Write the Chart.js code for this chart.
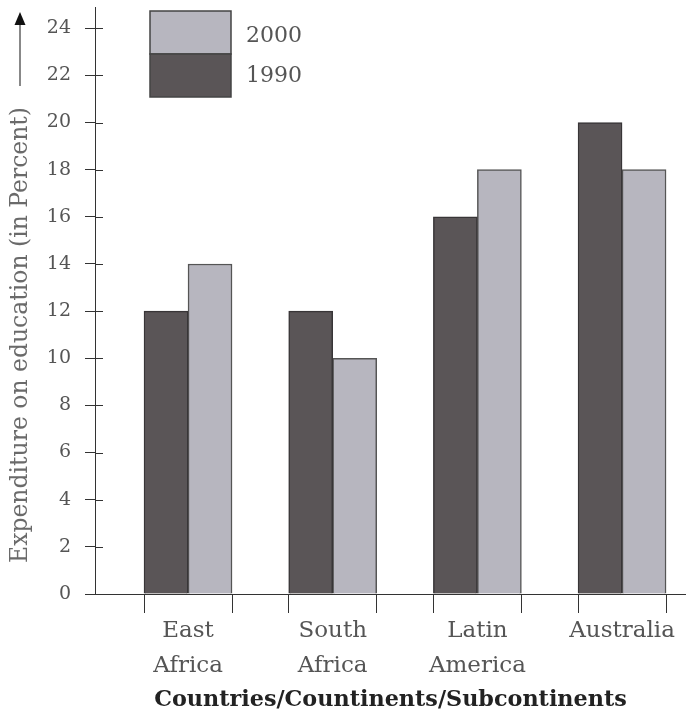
<!DOCTYPE html>
<html><head><meta charset="utf-8">
<script src="https://cdn.jsdelivr.net/npm/chart.js@4.4.1/dist/chart.umd.min.js"></script>
<style>html,body{margin:0;padding:0;background:#fff;}</style>
</head><body>
<canvas id="c" width="686" height="714"></canvas>
<script>
const categories = [['East','Africa'],['South','Africa'],['Latin','America'],['Australia']];
const values1990 = [12, 12, 16, 20];
const values2000 = [14, 10, 18, 18];
const yTickValues = [0, 2, 4, 6, 8, 10, 12, 14, 16, 18, 20, 22, 24];
const seriesNames = ['1990', '2000'];
const yTitle = 'Expenditure on education (in Percent)';
const xTitle = 'Countries/Countinents/Subcontinents';

const FONT = 'DejaVu Serif';
const DARK = '#5a5557';
const LIGHT = '#b7b6bf';
const groupHalf = 0.304; // half width of a bar pair in category units

const pts = arr => arr.map((v, i) => ({x: i + 1, y: v}));

const extras = {
  id: 'extras',
  afterDraw(chart) {
    const ctx = chart.ctx;
    const y = chart.scales.y;
    const area = chart.chartArea;
    ctx.save();
    // inner half of crossing y ticks
    ctx.strokeStyle = '#333';
    ctx.lineWidth = 1;
    yTickValues.forEach(v => {
      const py = Math.round(y.getPixelForValue(v)) + 0.5;
      ctx.beginPath();
      ctx.moveTo(area.left, py);
      ctx.lineTo(area.left + 8, py);
      ctx.stroke();
    });
    // y axis title
    ctx.save();
    ctx.translate(21, 335);
    ctx.rotate(-Math.PI / 2);
    ctx.fillStyle = '#6a6a6a';
    ctx.font = '23.5px "' + FONT + '"';
    ctx.textAlign = 'center';
    ctx.textBaseline = 'middle';
    ctx.fillText(yTitle, 0, 0);
    ctx.restore();
    // arrow next to the y title
    ctx.strokeStyle = '#888';
    ctx.lineWidth = 2;
    ctx.beginPath();
    ctx.moveTo(20, 86);
    ctx.lineTo(20, 22);
    ctx.stroke();
    ctx.fillStyle = '#111';
    ctx.beginPath();
    ctx.moveTo(20, 12);
    ctx.lineTo(14.5, 25);
    ctx.lineTo(25.5, 25);
    ctx.closePath();
    ctx.fill();
    // legend box
    const ds = chart.data.datasets;
    const bx = 150, bw = 81, top = 11, mid = 54, bot = 97;
    ctx.lineWidth = 1.5;
    ctx.strokeStyle = '#444';
    ctx.fillStyle = ds[1].backgroundColor;
    ctx.fillRect(bx, top, bw, mid - top);
    ctx.strokeRect(bx, top, bw, mid - top);
    ctx.fillStyle = ds[0].backgroundColor;
    ctx.fillRect(bx, mid, bw, bot - mid);
    ctx.strokeRect(bx, mid, bw, bot - mid);
    ctx.fillStyle = '#555';
    ctx.font = '22px "' + FONT + '"';
    ctx.textBaseline = 'middle';
    ctx.textAlign = 'left';
    ctx.fillText(ds[1].label, 246, 36);
    ctx.fillText(ds[0].label, 246, 76);
    ctx.restore();
  }
};

new Chart(document.getElementById('c'), {
  type: 'bar',
  data: {
    datasets: [
      {label: seriesNames[0], data: pts(values1990), backgroundColor: DARK, borderColor: '#383537', borderWidth: 1.5, barThickness: 44},
      {label: seriesNames[1], data: pts(values2000), backgroundColor: LIGHT, borderColor: '#555', borderWidth: 1.5, barThickness: 44}
    ]
  },
  options: {
    responsive: false,
    animation: false,
    layout: {padding: {top: 7, right: 0, bottom: 0, left: 0}},
    plugins: {legend: {display: false}, tooltip: {enabled: false}},
    scales: {
      x: {
        type: 'linear',
        offset: false,
        min: 0.357,
        max: 4.442,
        afterBuildTicks(scale) {
          const t = [];
          categories.forEach((c, i) => {
            t.push({value: i + 1 - groupHalf});
            t.push({value: i + 1});
            t.push({value: i + 1 + groupHalf});
          });
          scale.ticks = t;
        },
        afterFit(scale) {
          scale.height = 120;
          scale.paddingLeft = 0;
          scale.paddingRight = 0;
        },
        ticks: {
          autoSkip: false,
          maxRotation: 0,
          minRotation: 0,
          padding: 1,
          color: '#555',
          font: {family: FONT, size: 23, lineHeight: 35 / 23},
          callback(v) {
            const i = Math.round(v);
            return Math.abs(v - i) < 1e-6 ? categories[i - 1] : '';
          }
        },
        grid: {
          offset: false,
          drawOnChartArea: false,
          tickLength: 19,
          tickWidth: 1,
          tickColor(ctx) {
            const v = ctx.tick ? ctx.tick.value : 0;
            return Math.abs(v - Math.round(v)) < 1e-6 ? 'rgba(0,0,0,0)' : '#333';
          }
        },
        border: {display: true, color: '#333', width: 1},
        title: {
          display: true,
          text: xTitle,
          color: '#222',
          font: {family: FONT, size: 22.3, weight: 'bold', lineHeight: 1.2},
          padding: {top: 0, bottom: 0}
        }
      },
      y: {
        min: 0,
        max: 24.9,
        afterBuildTicks(scale) {
          scale.ticks = yTickValues.map(v => ({value: v}));
        },
        afterFit(scale) {
          scale.width = 95;
          scale.paddingTop = 0;
          scale.paddingBottom = 0;
        },
        ticks: {
          padding: 14,
          color: '#555',
          font: {family: FONT, size: 19}
        },
        grid: {drawOnChartArea: false, tickLength: 10, tickColor: '#333'},
        border: {display: true, color: '#333', width: 1},
        title: {display: false}
      }
    }
  },
  plugins: [extras]
});
</script>
</body></html>
